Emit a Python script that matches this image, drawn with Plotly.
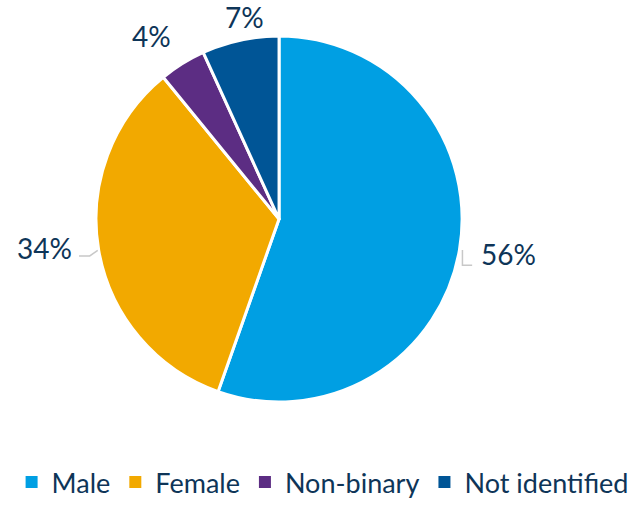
import math
import plotly.graph_objects as go

categories = ["Male", "Female", "Non-binary", "Not identified"]
values = [55.4, 33.7, 4.1, 6.8]
value_labels = ["56%", "34%", "4%", "7%"]
colors = ["#009FE3", "#F2A900", "#5C2D83", "#005596"]

W, H = 640, 507
dom_x = [0.15, 0.722]
dom_y = [0.207, 0.929]
text_color = "#0E3558"
font_family = "Lato"
# pixel nudges for label placement (style only)
label_nudge = [(0, 1), (-5, -6), (-19, -9), (9, -2)]

fig = go.Figure()
fig.add_trace(go.Pie(
    labels=categories,
    values=values,
    textinfo="none",
    marker=dict(colors=colors, line=dict(color="white", width=3)),
    sort=False,
    direction="clockwise",
    rotation=0,
    domain=dict(x=dom_x, y=dom_y),
    hoverinfo="label+percent",
    showlegend=False,
))

# legend entries with larger square swatches
for cat, col in zip(categories, colors):
    fig.add_trace(go.Scatter(
        x=[None], y=[None], mode="markers", name=cat,
        marker=dict(symbol="square", size=12, color=col),
        hoverinfo="skip",
    ))

# Label placement derived from the slice angles
cx = (dom_x[0] + dom_x[1]) / 2 * W
cy = (1 - (dom_y[0] + dom_y[1]) / 2) * H
R = min((dom_x[1] - dom_x[0]) * W, (dom_y[1] - dom_y[0]) * H) / 2
total = sum(values)
cum = 0
for v, lab, (ndx, ndy) in zip(values, value_labels, label_nudge):
    mid = (cum + v / 2) / total * 2 * math.pi
    cum += v
    sx, sy = math.sin(mid), -math.cos(mid)
    if abs(sx) > 0.8:
        d = 20
        px = cx + (R + d) * sx + ndx
        py = cy + (R + d) * sy + ndy
        xanchor = "left" if sx > 0 else "right"
        ex, ey = cx + R * sx, cy + R * sy
        if sx > 0:
            pts = [(ex + 3, ey), (ex + 3, py + 11), (px - 7, py + 11)]
        else:
            pts = [(ex - 1, ey), (ex - 9, py + 8), (px + 5, py + 8)]
        path = "M " + " L ".join(f"{x / W} {1 - y / H}" for x, y in pts)
        fig.add_shape(type="path", path=path, xref="paper", yref="paper",
                      line=dict(color="#C8C8C8", width=1.5))
    else:
        d = 22
        px = cx + (R + d) * sx + ndx
        py = cy + (R + d) * sy + ndy
        xanchor = "center"
    fig.add_annotation(
        x=px / W, y=1 - py / H, xref="paper", yref="paper",
        text=lab, showarrow=False, xanchor=xanchor, yanchor="middle",
        font=dict(size=28, color=text_color, family=font_family),
    )

fig.update_layout(
    width=W, height=H,
    margin=dict(l=0, r=0, t=0, b=0),
    paper_bgcolor="white",
    plot_bgcolor="white",
    showlegend=True,
    xaxis=dict(visible=False),
    yaxis=dict(visible=False),
    legend=dict(
        orientation="h",
        x=0.99, xanchor="right",
        y=0.0, yanchor="bottom",
        font=dict(size=27, color=text_color, family=font_family),
        itemwidth=30,
        tracegroupgap=0,
        bgcolor="rgba(0,0,0,0)",
    ),
)

fig.write_html("out.html", config={"displayModeBar": False},
               post_script="document.body.style.margin='0';document.body.style.overflow='hidden';")
